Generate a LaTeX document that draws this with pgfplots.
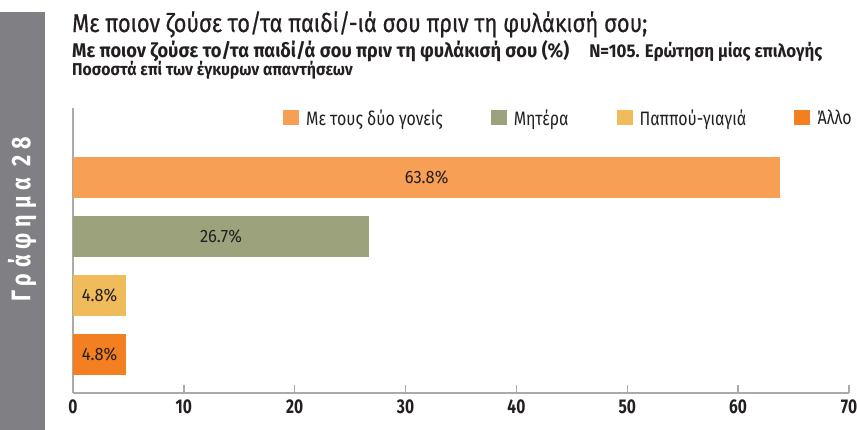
\documentclass[border=0pt]{standalone}
\usepackage{pgfplots}
\pgfplotsset{compat=1.18}
\usepackage{fontspec}
\setmainfont{Fira Sans}[FakeStretch=0.85]
\newfontfamily\fTitle{Fira Sans}[FakeStretch=0.85, FakeBold=0.6]
\newfontfamily\fSub{Fira Sans}[FakeStretch=0.92]
\newfontfamily\fLeg{Fira Sans}[FakeStretch=0.82]
\newfontfamily\fLab{Fira Sans}[FakeStretch=0.92]
\newfontfamily\fTick{Fira Sans}[FakeStretch=0.78]
\newfontfamily\fBand{Fira Sans}[FakeStretch=0.8, LetterSpace=22]
\definecolor{cA}{HTML}{F79F55}
\definecolor{cB}{HTML}{9CA27B}
\definecolor{cC}{HTML}{F0BB5A}
\definecolor{cD}{HTML}{F47F20}
\definecolor{band}{HTML}{808084}
\definecolor{txt}{HTML}{231F20}
\definecolor{axg}{HTML}{AAAAAA}
\begin{document}
\begin{tikzpicture}
\useasboundingbox (0,0) rectangle (857bp,-430bp);
\fill[band] (0,-12bp) rectangle (45bp,-430bp);
\node[rotate=90, text=white, font=\fBand\bfseries\fontsize{27}{27}\selectfont] at (22bp,-219bp) {Γράφημα 28};
\node[anchor=base west, text=txt, inner sep=0, font=\fTitle\fontsize{25.8}{25.8}\selectfont] at (72bp,-32bp) {Με ποιον ζούσε το/τα παιδί/-ιά σου πριν τη φυλάκισή σου;};
\node[anchor=base west, text=txt, inner sep=0, font=\fSub\bfseries\fontsize{19.9}{19.9}\selectfont] at (72bp,-57bp) {Με ποιον ζούσε το/τα παιδί/ά σου πριν τη φυλάκισή σου (\%)\hspace{20bp}{\fontsize{18.4}{18.4}\selectfont N=105. Ερώτηση μίας επιλογής}};
\node[anchor=base west, text=txt, inner sep=0, font=\fSub\bfseries\fontsize{17.2}{17.2}\selectfont] at (72bp,-75bp) {Ποσοστά επί των έγκυρων απαντήσεων};
\begin{axis}[
  at={(73bp,-393bp)}, anchor=south west,
  scale only axis, width=776bp, height=285bp,
  xmin=0, xmax=70, ymin=-1.17, ymax=3.65, y dir=reverse,
  xbar, bar width=41bp, bar shift=0pt,
  axis x line*=bottom, axis y line*=left,
  axis line style={axg, line width=1.3bp, -},
  ytick=\empty,
  xtick={0,10,...,70},
  tick align=inside, major tick length=8bp,
  tick style={axg, line width=1.3bp},
  xticklabel style={text=txt, font=\fTick\bfseries\fontsize{20}{20}\selectfont, yshift=-3bp},
  /pgf/number format/assume math mode=true,
  legend columns=4,
  legend style={at={(1.01,0.965)}, anchor=east, draw=none, fill=none,
    font=\fLeg\fontsize{19.5}{19.5}\selectfont, text=txt,
    /tikz/every odd column/.append style={column sep=5bp},
    /tikz/every even column/.append style={column sep=46bp}},
  legend image code/.code={\fill[#1, draw=none] (0bp,-7.5bp) rectangle (16bp,7.5bp);},
]
\addplot[fill=cA, draw=none] coordinates {(63.8,0)};
\addplot[fill=cB, draw=none] coordinates {(26.7,1)};
\addplot[fill=cC, draw=none] coordinates {(4.8,2)};
\addplot[fill=cD, draw=none] coordinates {(4.8,3)};
\legend{Με τους δύο γονείς, Μητέρα, Παππού-γιαγιά, Άλλο}
\node[text=txt, font=\fLab\fontsize{18}{18}\selectfont] at (axis cs:31.9,0) {63.8\%};
\node[text=txt, font=\fLab\fontsize{18}{18}\selectfont] at (axis cs:13.35,1) {26.7\%};
\node[text=txt, font=\fLab\fontsize{18}{18}\selectfont] at (axis cs:2.4,2) {4.8\%};
\node[text=txt, font=\fLab\fontsize{18}{18}\selectfont] at (axis cs:2.4,3) {4.8\%};
\end{axis}
\end{tikzpicture}
\end{document}
